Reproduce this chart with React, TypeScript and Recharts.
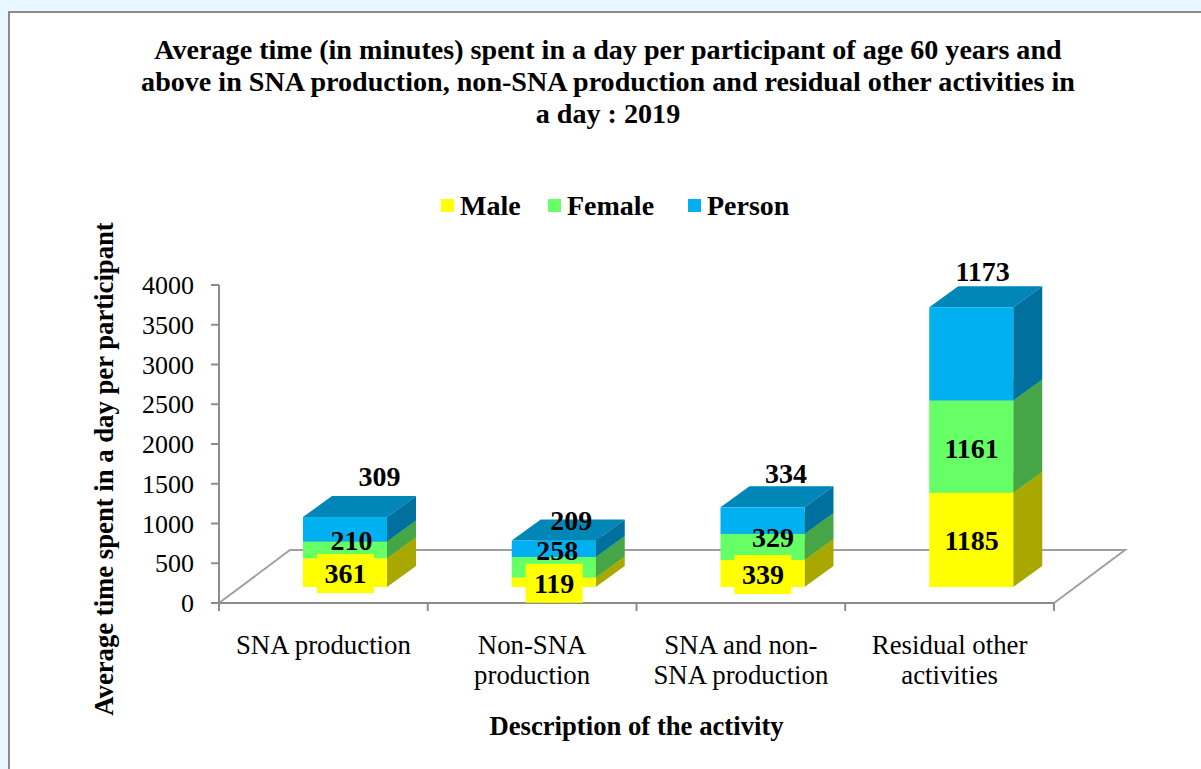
import * as React from "react"
import { Bar, ComposedChart, LabelList, Legend, Line, XAxis, YAxis } from "recharts"

const categories = [
  "SNA production",
  "Non-SNA\nproduction",
  "SNA and non-\nSNA production",
  "Residual other\nactivities",
]
const male = [361, 119, 339, 1185]
const female = [210, 258, 329, 1161]
const person = [309, 209, 334, 1173]
const yTicks = [0, 500, 1000, 1500, 2000, 2500, 3000, 3500, 4000]

const seriesNames = ["Male", "Female", "Person"]
const seriesColors = ["#FFFF00", "#66FF66", "#00B0F0"]
const sideColors = ["#A8A800", "#46A546", "#00719E"]
const topColors = ["#CCCC00", "#52CC52", "#0087B8"]

const FONT = '"Liberation Serif", "Times New Roman", serif'
const AXIS_GRAY = "#8C8C8C"
const FLOOR_GRAY = "#A0A0A0"

const WIDTH = 1201
const HEIGHT = 769
const PLOT = { left: 219, top: 285, right: 1054, bottom: 603 }

// fake 3D: bars stand part way back on the floor
const DEPTH_X = 29
const DEPTH_Y = 21
const SHIFT_X = 22
const SHIFT_Y = -16
const BAR_SIZE = 84

// label nudges from the middle of each segment, as placed in the reference
const maleNudge = [[0, 1], [0, 1], [0, 1], [0, 1]]
const femaleNudge = [[6, -9], [3, -17], [10, -9], [0, 2]]
const personNudge = [[34, -53], [17, -28], [23, -47], [11, -82]]

const data = categories.map((name, i) => ({
  name,
  male: male[i],
  female: female[i],
  person: person[i],
  maleMid: male[i] / 2,
  femaleMid: male[i] + female[i] / 2,
  personMid: male[i] + female[i] + person[i] / 2,
}))

function box3d(seriesIndex: number) {
  return (props: any) => {
    const x = props.x + SHIFT_X
    const y = props.y + SHIFT_Y
    const w = props.width
    const h = props.height
    const r = x + w
    const b = y + h
    return (
      <g>
        <polygon
          points={`${x},${y} ${x + DEPTH_X},${y - DEPTH_Y} ${r + DEPTH_X},${y - DEPTH_Y} ${r},${y}`}
          fill={topColors[seriesIndex]}
        />
        <polygon
          points={`${r},${y} ${r + DEPTH_X},${y - DEPTH_Y} ${r + DEPTH_X},${b - DEPTH_Y} ${r},${b}`}
          fill={sideColors[seriesIndex]}
        />
        <rect x={x} y={y} width={w} height={h} fill={seriesColors[seriesIndex]} />
      </g>
    )
  }
}

function segmentLabel(values: number[], nudges: number[][], boxed: boolean) {
  return (props: any) => {
    const i = props.index
    const cx = props.x + SHIFT_X + nudges[i][0]
    const cy = props.y + SHIFT_Y + nudges[i][1]
    return (
      <g>
        {boxed && <rect x={cx - 28.5} y={cy - 19.5} width={57} height={39} fill="#FFFF00" />}
        <text
          x={cx}
          y={cy}
          textAnchor="middle"
          dominantBaseline="central"
          fontFamily={FONT}
          fontSize={28}
          fontWeight={700}
          fill="#000"
        >
          {values[i]}
        </text>
      </g>
    )
  }
}

function CategoryTick({ x, y, payload }: any) {
  const lines = String(payload.value).split("\n")
  return (
    <text x={x} y={y} textAnchor="middle" fontFamily={FONT} fontSize={26.8} fill="#000">
      {lines.map((line, i) => (
        <tspan key={line} x={x} dy={i === 0 ? 0 : 30}>
          {line}
        </tspan>
      ))}
    </text>
  )
}

function Floor() {
  const { left, right, bottom } = PLOT
  const backX = 71
  const backY = 53
  const band = (right - left) / categories.length
  const ticks = categories.map((_, i) => left + band * i).concat(right)
  return (
    <g fill="none">
      <polyline
        points={`${left},${bottom} ${left + backX},${bottom - backY} ${right + backX},${bottom - backY} ${right},${bottom}`}
        stroke={FLOOR_GRAY}
        strokeWidth={2}
      />
      {ticks.map((t) => (
        <line key={t} x1={t} x2={t} y1={bottom} y2={bottom + 8} stroke={AXIS_GRAY} strokeWidth={2} />
      ))}
    </g>
  )
}

function ChartLegend() {
  const items = [
    { x: 441, textX: 460 },
    { x: 548, textX: 567 },
    { x: 688, textX: 707 },
  ]
  return (
    <div style={{ position: "relative", width: 500, height: 40 }}>
      {seriesNames.map((name, i) => (
        <React.Fragment key={name}>
          <span
            style={{
              position: "absolute",
              left: items[i].x - 430,
              top: 12,
              width: 13,
              height: 13,
              background: seriesColors[i],
            }}
          />
          <span
            style={{
              position: "absolute",
              left: items[i].textX - 430,
              top: 1,
              fontFamily: FONT,
              fontSize: 28,
              fontWeight: 700,
              lineHeight: "36px",
              color: "#000",
            }}
          >
            {name}
          </span>
        </React.Fragment>
      ))}
    </div>
  )
}

function YTitle({ viewBox }: any) {
  const x = viewBox.x - 35
  const y = viewBox.y + viewBox.height / 2 + 25
  return (
    <text
      x={x}
      y={y}
      transform={`rotate(-90 ${x} ${y})`}
      textAnchor="middle"
      dominantBaseline="central"
      fontFamily={FONT}
      fontSize={26.7}
      fontWeight={700}
      fill="#000"
    >
      Average time spent in a day per participant
    </text>
  )
}

export default function App() {
  React.useEffect(() => {
    document.body.style.margin = "0"
    document.body.style.background = "#EAF6FF"
  }, [])

  return (
    <div style={{ position: "relative", width: WIDTH, height: HEIGHT, overflow: "hidden", background: "#EAF6FF" }}>
      <div
        style={{
          position: "absolute",
          left: 8,
          top: 11,
          width: WIDTH,
          height: HEIGHT,
          background: "#fff",
          border: `2.5px solid ${AXIS_GRAY}`,
        }}
      />
      <div
        style={{
          position: "absolute",
          left: 108,
          top: 34,
          width: 1000,
          textAlign: "center",
          fontFamily: FONT,
          fontSize: 28.1,
          fontWeight: 700,
          lineHeight: "32px",
          color: "#000",
        }}
      >
        Average time (in minutes) spent in a day per participant of age 60 years and
        <br />
        above in SNA production, non-SNA production and residual other activities in
        <br />a day : 2019
      </div>
      <div style={{ position: "absolute", left: 0, top: 0 }}>
        <ComposedChart
          width={WIDTH}
          height={HEIGHT}
          data={data}
          margin={{
            top: PLOT.top,
            right: WIDTH - PLOT.right,
            bottom: HEIGHT - PLOT.bottom - 70,
            left: PLOT.left - 80,
          }}
          barSize={BAR_SIZE}
          style={{ background: "transparent" }}
        >
          <Floor />
          <XAxis
            dataKey="name"
            interval={0}
            height={70}
            tick={<CategoryTick />}
            tickLine={false}
            tickSize={0}
            tickMargin={51}
            axisLine={{ stroke: AXIS_GRAY, strokeWidth: 2 }}
            label={{
              value: "Description of the activity",
              position: "bottom",
              offset: 43,
              fontFamily: FONT,
              fontSize: 26.7,
              fontWeight: 700,
              fill: "#000",
            }}
          />
          <YAxis
            width={80}
            domain={[0, 4000]}
            ticks={yTicks}
            interval={0}
            tickSize={8}
            tickMargin={17}
            tick={{ fontFamily: FONT, fontSize: 26, fill: "#000" }}
            tickLine={{ stroke: AXIS_GRAY, strokeWidth: 2 }}
            axisLine={{ stroke: AXIS_GRAY, strokeWidth: 2 }}
            label={<YTitle />}
          />
          <Legend
            layout="vertical"
            align="center"
            verticalAlign="middle"
            content={<ChartLegend />}
            wrapperStyle={{ left: 430, top: 187, width: 500, height: 40, bottom: "auto", right: "auto" }}
          />
          <Bar dataKey="male" stackId="a" fill={seriesColors[0]} shape={box3d(0)} isAnimationActive={false} />
          <Bar dataKey="female" stackId="a" fill={seriesColors[1]} shape={box3d(1)} isAnimationActive={false} />
          <Bar dataKey="person" stackId="a" fill={seriesColors[2]} shape={box3d(2)} isAnimationActive={false} />
          {/* labels ride on invisible lines so they paint above every bar */}
          <Line dataKey="maleMid" stroke="none" dot={false} activeDot={false} legendType="none" isAnimationActive={false}>
            <LabelList content={segmentLabel(male, maleNudge, true)} />
          </Line>
          <Line dataKey="femaleMid" stroke="none" dot={false} activeDot={false} legendType="none" isAnimationActive={false}>
            <LabelList content={segmentLabel(female, femaleNudge, false)} />
          </Line>
          <Line dataKey="personMid" stroke="none" dot={false} activeDot={false} legendType="none" isAnimationActive={false}>
            <LabelList content={segmentLabel(person, personNudge, false)} />
          </Line>
        </ComposedChart>
      </div>
    </div>
  )
}
